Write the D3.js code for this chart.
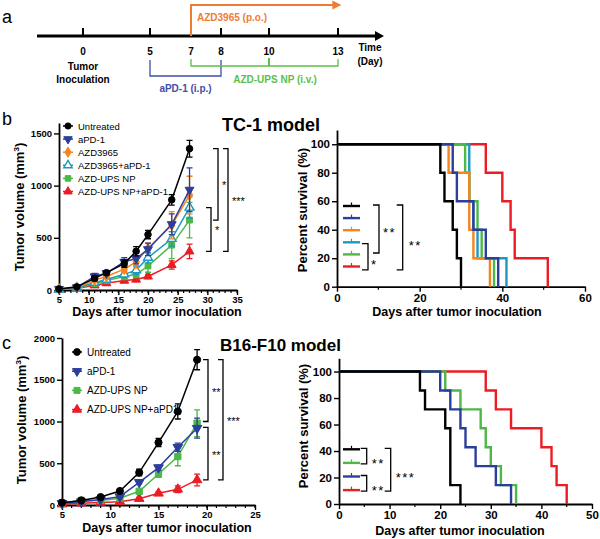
<!DOCTYPE html>
<html><head><meta charset="utf-8">
<script src="https://cdn.jsdelivr.net/npm/d3@7"></script>
<style>
body{margin:0;background:#fff;}
svg{font-family:"Liberation Sans",Arial,sans-serif;}
</style></head>
<body><svg id="chart" width="600" height="539"></svg>
<script>
// ---------- DATA ----------
// Panel a timeline
const timelineDays = [0, 5, 7, 8, 10, 13];
const azdStart = 7, azdEnd = 12.8;
const apd1Days = [5, 8];
const npDays = [7, 10, 13];

// Panel b: TC-1 tumor growth
const tcDays = [5, 8, 11, 13, 16, 18, 20, 24, 27];
const tcGroups = ["Untreated", "aPD-1", "AZD3965", "AZD3965+aPD-1", "AZD-UPS NP", "AZD-UPS NP+aPD-1"];
const tcUntreated = [10, 30, 112, 166, 253, 371, 531, 864, 1354];
const tcUntreatedErr = [5, 10, 25, 20, 35, 45, 40, 50, 80];
const tcApd1 = [10, 25, 130, 160, 270, 300, 390, 630, 960];
const tcApd1Err = [5, 10, 30, 20, 40, 50, 60, 100, 210];
const tcAzd = [10, 20, 95, 130, 200, 270, 400, 620, 910];
const tcAzdErr = [5, 10, 20, 20, 30, 60, 50, 130, 180];
const tcAzdApd1 = [5, 20, 70, 100, 150, 190, 310, 490, 790];
const tcAzdApd1Err = [5, 5, 20, 20, 30, 40, 50, 70, 100];
const tcNp = [5, 15, 60, 90, 130, 150, 230, 430, 670];
const tcNpErr = [5, 5, 15, 15, 30, 30, 60, 130, 170];
const tcNpApd1 = [5, 15, 45, 65, 90, 100, 130, 240, 370];
const tcNpApd1Err = [5, 5, 20, 20, 20, 20, 20, 40, 70];

// Panel b: TC-1 survival (death days, n=5)
const tcSurvUntreated = [25, 26, 28, 29, 30];
const tcSurvApd1 = [28, 29, 33, 36, 39];
const tcSurvAzd = [27, 32, 32, 33, 37];
const tcSurvAzdApd1 = [32, 32, 33, 34, 41];
const tcSurvNp = [31, 32, 34, 35, 38];
const tcSurvNpApd1 = [36, 40, 42, 43, 51];

// Panel c: B16-F10 tumor growth
const bDays = [5, 7, 9, 11, 13, 15, 17, 19];
const bGroups = ["Untreated", "aPD-1", "AZD-UPS NP", "AZD-UPS NP+aPD1"];
const bUntreated = [28, 55, 95, 168, 388, 748, 1120, 1740];
const bUntreatedErr = [10, 10, 15, 20, 40, 50, 90, 120];
const bApd1 = [20, 40, 65, 100, 272, 448, 692, 920];
const bApd1Err = [5, 10, 10, 20, 20, 30, 50, 120];
const bNp = [25, 55, 55, 80, 164, 372, 580, 980];
const bNpErr = [5, 10, 10, 20, 20, 40, 110, 160];
const bNpApd1 = [10, 20, 30, 40, 76, 140, 188, 300];
const bNpApd1Err = [5, 5, 5, 10, 15, 20, 40, 70];

// Panel c: B16-F10 survival (death days, n=7)
const bSurvUntreated = [16, 17, 21, 22, 22, 22, 24];
const bSurvApd1 = [20, 22, 24, 25, 27, 31, 34];
const bSurvNp = [21, 24, 28, 29, 30, 32, 35];
const bSurvNpApd1 = [29, 31, 34, 40, 42, 43, 45];

// ---------- STYLE ----------
const C = {black:"#000000", blue:"#2c3e9c", orange:"#f5841f", teal:"#1e98c0", green:"#4cb847", red:"#ec1c24"};
const TL = {orange:"#f07b35", blue:"#3f4ea8", green:"#5cbf4a"};

const svg = d3.select("#chart");

// ---------- PANEL LABELS ----------
[["a",2,23],["b",2,125],["c",2,349]].forEach(([t,x,y])=>{
  svg.append("text").attr("x",x).attr("y",y).attr("font-size",18).attr("fill","#000").text(t);
});

// ---------- PANEL a: timeline ----------
(function(){
  const g = svg.append("g");
  const x = d3.scaleLinear().domain(timelineDays).range([83,150,191,221,269,338]);
  const axY = 36;
  g.append("line").attr("x1",37).attr("x2",376).attr("y1",axY).attr("y2",axY)
    .attr("stroke","#000").attr("stroke-width",3);
  g.append("path").attr("d",`M375,${axY-5}L384,${axY}L375,${axY+5}Z`).attr("fill","#000");
  timelineDays.forEach(d=>{
    g.append("line").attr("x1",x(d)).attr("x2",x(d)).attr("y1",axY-8).attr("y2",axY)
      .attr("stroke","#000").attr("stroke-width",2);
    g.append("text").attr("x",x(d)).attr("y",55).attr("text-anchor","middle")
      .attr("font-size",10).attr("font-weight","bold").text(d);
  });
  g.append("text").attr("x",x(0)).attr("y",70).attr("text-anchor","middle").attr("font-size",10).attr("font-weight","bold").text("Tumor");
  g.append("text").attr("x",x(0)).attr("y",83).attr("text-anchor","middle").attr("font-size",10).attr("font-weight","bold").text("Inoculation");
  g.append("text").attr("x",370).attr("y",51).attr("text-anchor","middle").attr("font-size",10).attr("font-weight","bold").text("Time");
  g.append("text").attr("x",370).attr("y",65).attr("text-anchor","middle").attr("font-size",10).attr("font-weight","bold").text("(Day)");
  // AZD3965
  const ay = 5;
  g.append("path").attr("d",`M${x(azdStart)},${axY}V${ay}H${x(azdEnd)}`).attr("fill","none")
    .attr("stroke",TL.orange).attr("stroke-width",2);
  g.append("path").attr("d",`M${x(azdEnd)-1},${ay-4.5}L${x(azdEnd)+8},${ay}L${x(azdEnd)-1},${ay+4.5}Z`).attr("fill",TL.orange);
  g.append("text").attr("x",x(azdStart)+6).attr("y",21).attr("font-size",10).attr("font-weight","bold")
    .attr("fill",TL.orange).text("AZD3965 (p.o.)");
  // aPD-1 bracket
  g.append("path").attr("d",`M${x(apd1Days[0])},60V76H${x(apd1Days[1])}V60`).attr("fill","none")
    .attr("stroke",TL.blue).attr("stroke-width",1.3);
  g.append("text").attr("x",(x(apd1Days[0])+x(apd1Days[1]))/2).attr("y",92).attr("text-anchor","middle")
    .attr("font-size",10).attr("font-weight","bold").attr("fill",TL.blue).text("aPD-1 (i.p.)");
  // AZD-UPS NP bracket
  g.append("path").attr("d",`M${x(npDays[0])},59V66H${x(npDays[2])}V59`).attr("fill","none")
    .attr("stroke",TL.green).attr("stroke-width",1.3);
  g.append("line").attr("x1",x(npDays[1])).attr("x2",x(npDays[1])).attr("y1",58).attr("y2",66)
    .attr("stroke",TL.green).attr("stroke-width",2);
  g.append("text").attr("x",x(npDays[1])+6).attr("y",83).attr("text-anchor","middle")
    .attr("font-size",10).attr("font-weight","bold").attr("fill",TL.green).text("AZD-UPS NP (i.v.)");
})();

// ---------- helpers ----------
function marker(g, type, x, y, color, size){
  let sym, fill = color, stroke = color, sw = 1;
  if(type==="circle") sym = d3.symbolCircle;
  else if(type==="down") sym = d3.symbolTriangle;
  else if(type==="diamond") sym = d3.symbolDiamond;
  else if(type==="otri"){ sym = d3.symbolTriangle; fill = "#fff"; sw = 1.4; }
  else if(type==="square") sym = d3.symbolSquare;
  else sym = d3.symbolTriangle;
  return g.append("path").attr("d", d3.symbol().type(sym).size(size)())
    .attr("transform",`translate(${x},${y})` + (type==="down"?" rotate(180)":""))
    .attr("fill",fill).attr("stroke",stroke).attr("stroke-width",sw);
}

function minorTicks(g, x, values, y0, len){
  g.append("g").selectAll("line").data(values).join("line")
    .attr("x1",d=>x(d)).attr("x2",d=>x(d)).attr("y1",y0).attr("y2",y0+len)
    .attr("stroke","#000").attr("stroke-width",1.2);
}

function styleAxis(a, font){
  a.select(".domain").attr("stroke-width",1.8);
  a.selectAll("line").attr("stroke-width",1.4);
  a.selectAll("text").attr("font-size",font).attr("font-weight","bold").attr("font-family","Liberation Sans, Arial").attr("fill","#000");
}

function tumorChart(opt){
  const g = svg.append("g");
  const x = d3.scaleLinear().domain(opt.xDomain).range(opt.xRange);
  const y = d3.scaleLinear().domain(opt.yDomain).range(opt.yRange);
  minorTicks(g, x, d3.range(opt.xDomain[0],opt.xDomain[1]+1,1), opt.yRange[0], 3);
  const xb = g.append("g").attr("transform",`translate(0,${opt.yRange[0]})`)
    .call(d3.axisBottom(x).tickValues(opt.xTicks).tickSize(5).tickSizeOuter(0).tickPadding(1).tickFormat(d3.format("d")));
  styleAxis(xb, opt.tickFont);
  const ya = g.append("g").attr("transform",`translate(${opt.xRange[0]},0)`)
    .call(d3.axisLeft(y).tickValues(opt.yTicks).tickSize(5).tickSizeOuter(0).tickPadding(2).tickFormat(d3.format("d")));
  styleAxis(ya, opt.tickFont);
  g.append("text").attr("x",opt.xLabelX).attr("y",opt.xLabelY).attr("text-anchor","middle")
    .attr("font-size",12.5).attr("font-weight","bold").text("Days after tumor inoculation");
  const yl = g.append("text").attr("transform",`translate(${opt.yLabelX},${opt.yLabelY}) rotate(-90)`)
    .attr("text-anchor","middle").attr("font-size",13).attr("font-weight","bold");
  yl.append("tspan").text("Tumor volume (mm");
  yl.append("tspan").attr("font-size",8).attr("dy",-5).text("3");
  yl.append("tspan").attr("dy",5).text(")");
  const line = d3.line().x(d=>x(d[0])).y(d=>y(d[1]));
  opt.series.slice().reverse().forEach(s=>{
    const pts = opt.days.map((d,i)=>[d,s.values[i],s.err[i]]);
    const sg = g.append("g");
    pts.forEach(p=>{
      const hi = y(p[1]+p[2]), lo = y(Math.max(0,p[1]-p[2])), cx = x(p[0]);
      sg.append("path").attr("d",`M${cx-3},${hi}H${cx+3}M${cx},${hi}V${lo}M${cx-3},${lo}H${cx+3}`)
        .attr("stroke",s.color).attr("stroke-width",1.3).attr("fill","none");
    });
    sg.append("path").attr("d",line(pts)).attr("fill","none").attr("stroke",s.color).attr("stroke-width",1.5);
    pts.forEach(p=> marker(sg, s.marker, x(p[0]), y(p[1]), s.color, opt.markerSize));
  });
  opt.series.forEach((s,i)=>{
    const ly = opt.legY + i*opt.legDy;
    g.append("line").attr("x1",opt.legX-5).attr("x2",opt.legX+5).attr("y1",ly).attr("y2",ly).attr("stroke",s.color).attr("stroke-width",1.5);
    marker(g, s.marker, opt.legX, ly, s.color, opt.markerSize*0.9);
    g.append("text").attr("x",opt.legX+10).attr("y",ly+3.5).attr("font-size",opt.legFont).attr("fill","#000").text(s.name);
  });
  opt.brackets.forEach(b=>{
    const y1 = y(b.from), y2 = y(b.to);
    g.append("path").attr("d",`M${b.x-5},${y1}H${b.x}V${y2}H${b.x-5}`).attr("fill","none")
      .attr("stroke","#000").attr("stroke-width",1.3);
    g.append("text").attr("x",b.x+4).attr("y",(y1+y2)/2+5).attr("font-size",11).attr("fill","#000").text(b.label);
  });
  g.append("text").attr("x",opt.titleX).attr("y",opt.titleY).attr("font-size",opt.titleFont)
    .attr("font-weight","bold").attr("fill","#000").text(opt.title);
}

function kmChart(opt){
  const g = svg.append("g");
  const x = d3.scaleLinear().domain(opt.xDomain).range(opt.xRange);
  const y = d3.scaleLinear().domain([0,110]).range(opt.yRange);
  minorTicks(g, x, opt.xMinor, opt.yRange[0], 3);
  const xb = g.append("g").attr("transform",`translate(0,${opt.yRange[0]})`)
    .call(d3.axisBottom(x).tickValues(opt.xTicks).tickSize(5).tickSizeOuter(0).tickPadding(2));
  styleAxis(xb, 11.5);
  const ya = g.append("g").attr("transform",`translate(${opt.xRange[0]},0)`)
    .call(d3.axisLeft(y).tickValues([0,20,40,60,80,100]).tickSize(5).tickSizeOuter(0).tickPadding(2));
  styleAxis(ya, 11.5);
  g.append("text").attr("x",opt.xLabelX).attr("y",opt.xLabelY).attr("text-anchor","middle")
    .attr("font-size",12.5).attr("font-weight","bold").text("Days after tumor inoculation");
  g.append("text").attr("transform",`translate(${opt.yLabelX},${opt.yLabelY}) rotate(-90)`)
    .attr("text-anchor","middle").attr("font-size",13).attr("font-weight","bold").text("Percent survival (%)");
  const line = d3.line().x(d=>x(d[0])).y(d=>y(d[1])).curve(d3.curveStepAfter);
  opt.drawOrder.forEach(idx=>{
    const s = opt.series[idx];
    const n = s.deaths.length;
    const times = Array.from(new Set(s.deaths)).sort((a,b)=>a-b);
    const pts = [[0,100]];
    let dead = 0;
    times.forEach(t=>{ dead += s.deaths.filter(d=>d===t).length; pts.push([t,(n-dead)/n*100]); });
    g.append("path").attr("d",line(pts)).attr("fill","none").attr("stroke",s.color).attr("stroke-width",2.4);
  });
  opt.series.forEach((s,i)=>{
    const ly = opt.legY + i*opt.legDy;
    g.append("line").attr("x1",opt.legX).attr("x2",opt.legX+17).attr("y1",ly).attr("y2",ly).attr("stroke",s.color).attr("stroke-width",2.4);
    g.append("line").attr("x1",opt.legX+8.5).attr("x2",opt.legX+8.5).attr("y1",ly-3.5).attr("y2",ly).attr("stroke",s.color).attr("stroke-width",1.2);
  });
  opt.brackets.forEach(b=>{
    const y1 = opt.legY + b.from*opt.legDy, y2 = opt.legY + b.to*opt.legDy;
    g.append("path").attr("d",`M${b.x-6},${y1-1}H${b.x}V${y2+1}H${b.x-6}`).attr("fill","none")
      .attr("stroke","#000").attr("stroke-width",1.3);
    g.append("text").attr("x",b.x+b.dx).attr("y",(y1+y2)/2+b.dy).attr("font-size",13).attr("fill","#000")
      .attr("letter-spacing",1.5).text(b.label);
  });
}

// ---------- PANEL b ----------
tumorChart({
  xDomain:[5,35], xRange:[59,237], yDomain:[0,1600], yRange:[290,123],
  xTicks:[5,10,15,20,25,30,35], yTicks:[0,500,1000,1500], tickFont:9.5,
  xLabelX:157, xLabelY:316, yLabelX:24, yLabelY:207,
  days: tcDays, markerSize:34,
  series:[
    {name:tcGroups[0], values:tcUntreated, err:tcUntreatedErr, color:C.black, marker:"circle"},
    {name:tcGroups[1], values:tcApd1, err:tcApd1Err, color:C.blue, marker:"down"},
    {name:tcGroups[2], values:tcAzd, err:tcAzdErr, color:C.orange, marker:"diamond"},
    {name:tcGroups[3], values:tcAzdApd1, err:tcAzdApd1Err, color:C.teal, marker:"otri"},
    {name:tcGroups[4], values:tcNp, err:tcNpErr, color:C.green, marker:"square"},
    {name:tcGroups[5], values:tcNpApd1, err:tcNpApd1Err, color:C.red, marker:"tri"}
  ],
  legX:68, legY:126, legDy:13.1, legFont:9.5,
  brackets:[
    {from:1354, to:670, x:218, label:"*"},
    {from:790, to:370, x:211, label:"*"},
    {from:1354, to:370, x:228, label:"***"}
  ],
  title:"TC-1 model", titleX:222, titleY:131, titleFont:18
});

// ---------- PANEL c ----------
tumorChart({
  xDomain:[5,25], xRange:[62,255], yDomain:[0,2000], yRange:[505,338],
  xTicks:[5,10,15,20,25], yTicks:[0,500,1000,1500,2000], tickFont:9.5,
  xLabelX:167, xLabelY:532, yLabelX:26, yLabelY:420,
  days: bDays, markerSize:40,
  series:[
    {name:bGroups[0], values:bUntreated, err:bUntreatedErr, color:C.black, marker:"circle"},
    {name:bGroups[1], values:bApd1, err:bApd1Err, color:C.blue, marker:"down"},
    {name:bGroups[2], values:bNp, err:bNpErr, color:C.green, marker:"square"},
    {name:bGroups[3], values:bNpApd1, err:bNpApd1Err, color:C.red, marker:"tri"}
  ],
  legX:77, legY:352, legDy:19.2, legFont:10,
  brackets:[
    {from:1740, to:1000, x:208, label:"**"},
    {from:930, to:300, x:208, label:"**"},
    {from:1740, to:300, x:223, label:"***"}
  ],
  title:"B16-F10 model", titleX:220, titleY:351, titleFont:17
});

// ---------- KM b ----------
kmChart({
  xDomain:[0,60], xRange:[337,585], yRange:[286.7,130],
  xTicks:[0,20,40,60], xMinor:[10,30,50],
  xLabelX:457, xLabelY:316, yLabelX:307, yLabelY:210,
  series:[
    {deaths:tcSurvUntreated, color:C.black},
    {deaths:tcSurvApd1, color:C.blue},
    {deaths:tcSurvAzd, color:C.orange},
    {deaths:tcSurvAzdApd1, color:C.teal},
    {deaths:tcSurvNp, color:C.green},
    {deaths:tcSurvNpApd1, color:C.red}
  ],
  drawOrder:[5,3,4,2,1,0],
  legX:343, legY:206, legDy:12.1,
  brackets:[
    {from:0, to:3.8, x:379, label:"**", dx:4, dy:8},
    {from:0, to:5.2, x:402.7, label:"**", dx:6, dy:13},
    {from:3.2, to:5.2, x:368, label:"*", dx:3, dy:12}
  ]
});

// ---------- KM c ----------
kmChart({
  xDomain:[0,50], xRange:[339,592], yRange:[504,358.3],
  xTicks:[0,10,20,30,40,50], xMinor:[5,15,25,35,45],
  xLabelX:460, xLabelY:535, yLabelX:308, yLabelY:426,
  series:[
    {deaths:bSurvUntreated, color:C.black},
    {deaths:bSurvNp, color:C.green},
    {deaths:bSurvApd1, color:C.blue},
    {deaths:bSurvNpApd1, color:C.red}
  ],
  drawOrder:[3,1,2,0],
  legX:343, legY:449.3, legDy:13.6,
  brackets:[
    {from:0, to:1, x:366.7, label:"**", dx:5, dy:12},
    {from:2, to:3, x:366.7, label:"**", dx:5, dy:12},
    {from:0, to:3, x:390.7, label:"***", dx:5, dy:12}
  ]
});
</script></body></html>
